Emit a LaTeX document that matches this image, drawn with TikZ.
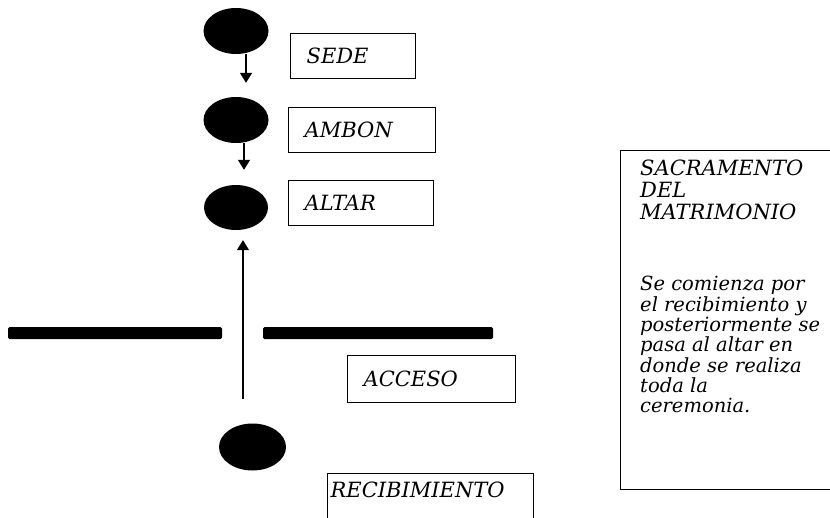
\documentclass[tikz,border=0pt]{standalone}
\usepackage{fontspec}
\setmainfont{DejaVu Serif}
\usetikzlibrary{shapes.geometric, arrows.meta, positioning}

\begin{document}
\begin{tikzpicture}[x=1pt, y=-1pt,
    station/.style={ellipse, fill=black, minimum width=65pt, minimum height=46pt, inner sep=0pt},
    place/.style={draw, line width=1.3pt, anchor=north west, minimum height=45pt, inner xsep=16pt,
                  text width=#1, align=left, font=\fontsize{21}{22}\selectfont\itshape},
    flow/.style={line width=1.4pt, -{Triangle[length=10pt, width=12pt]}},
    wall/.style={fill=black, rounded corners=1.5pt}]
    \useasboundingbox (0,0) rectangle (830,517);
    \clip (0,0) rectangle (830,517);

    \node[station] (psede)  at (236,  31) {};
    \node[station] (pambon) at (236, 120) {};
    \node[station, minimum width=64pt, minimum height=45pt] (paltar) at (236, 207.5) {};
    \node[station, minimum width=67pt, minimum height=47pt] (precib) at (252.5, 447) {};

    \node[place=93pt]  (sede)   at (290,  33) {SEDE};
    \node[place=115pt] (ambon)  at (288, 107) {AMBON};
    \node[place=113pt] (altar)  at (288, 180) {ALTAR};
    \node[place=136pt, minimum height=47pt] (acceso) at (347, 355) {ACCESO};
    \node[place=200pt, inner xsep=3pt, inner ysep=8pt, text depth=30pt] (recib) at (327, 473) {RECIBIMIENTO};

    \draw[flow] ([xshift=10pt]psede.south) -- ([xshift=10pt, yshift=14pt]pambon.north);
    \draw[flow] ([xshift=8pt]pambon.south) -- ([xshift=8pt, yshift=15pt]paltar.north);
    \draw[flow] ([xshift=-9.5pt, yshift=24pt]precib.north) -- ([xshift=7pt, yshift=-10pt]paltar.south);

    \fill[wall] (  8, 327) rectangle (222, 339);
    \fill[wall] (263, 327) rectangle (493, 339);

    \node[draw, line width=1.3pt, anchor=north west, minimum width=230pt, minimum height=339pt] (info) at (620, 150) {};
    \node[anchor=north west, inner sep=0pt, align=left, font=\fontsize{21}{22}\selectfont\itshape]
        (infohead) at ([shift={(20,10)}]info.north west) {SACRAMENTO\\DEL\\MATRIMONIO};
    \node[below right=56pt and 0pt of infohead.south west, inner sep=0pt, align=left,
          font=\fontsize{19.5}{20.3}\selectfont\itshape]
        (infotext) {Se comienza por\\el recibimiento y\\posteriormente se\\pasa al altar en\\donde se realiza\\toda la\\ceremonia.};
\end{tikzpicture}
\end{document}
